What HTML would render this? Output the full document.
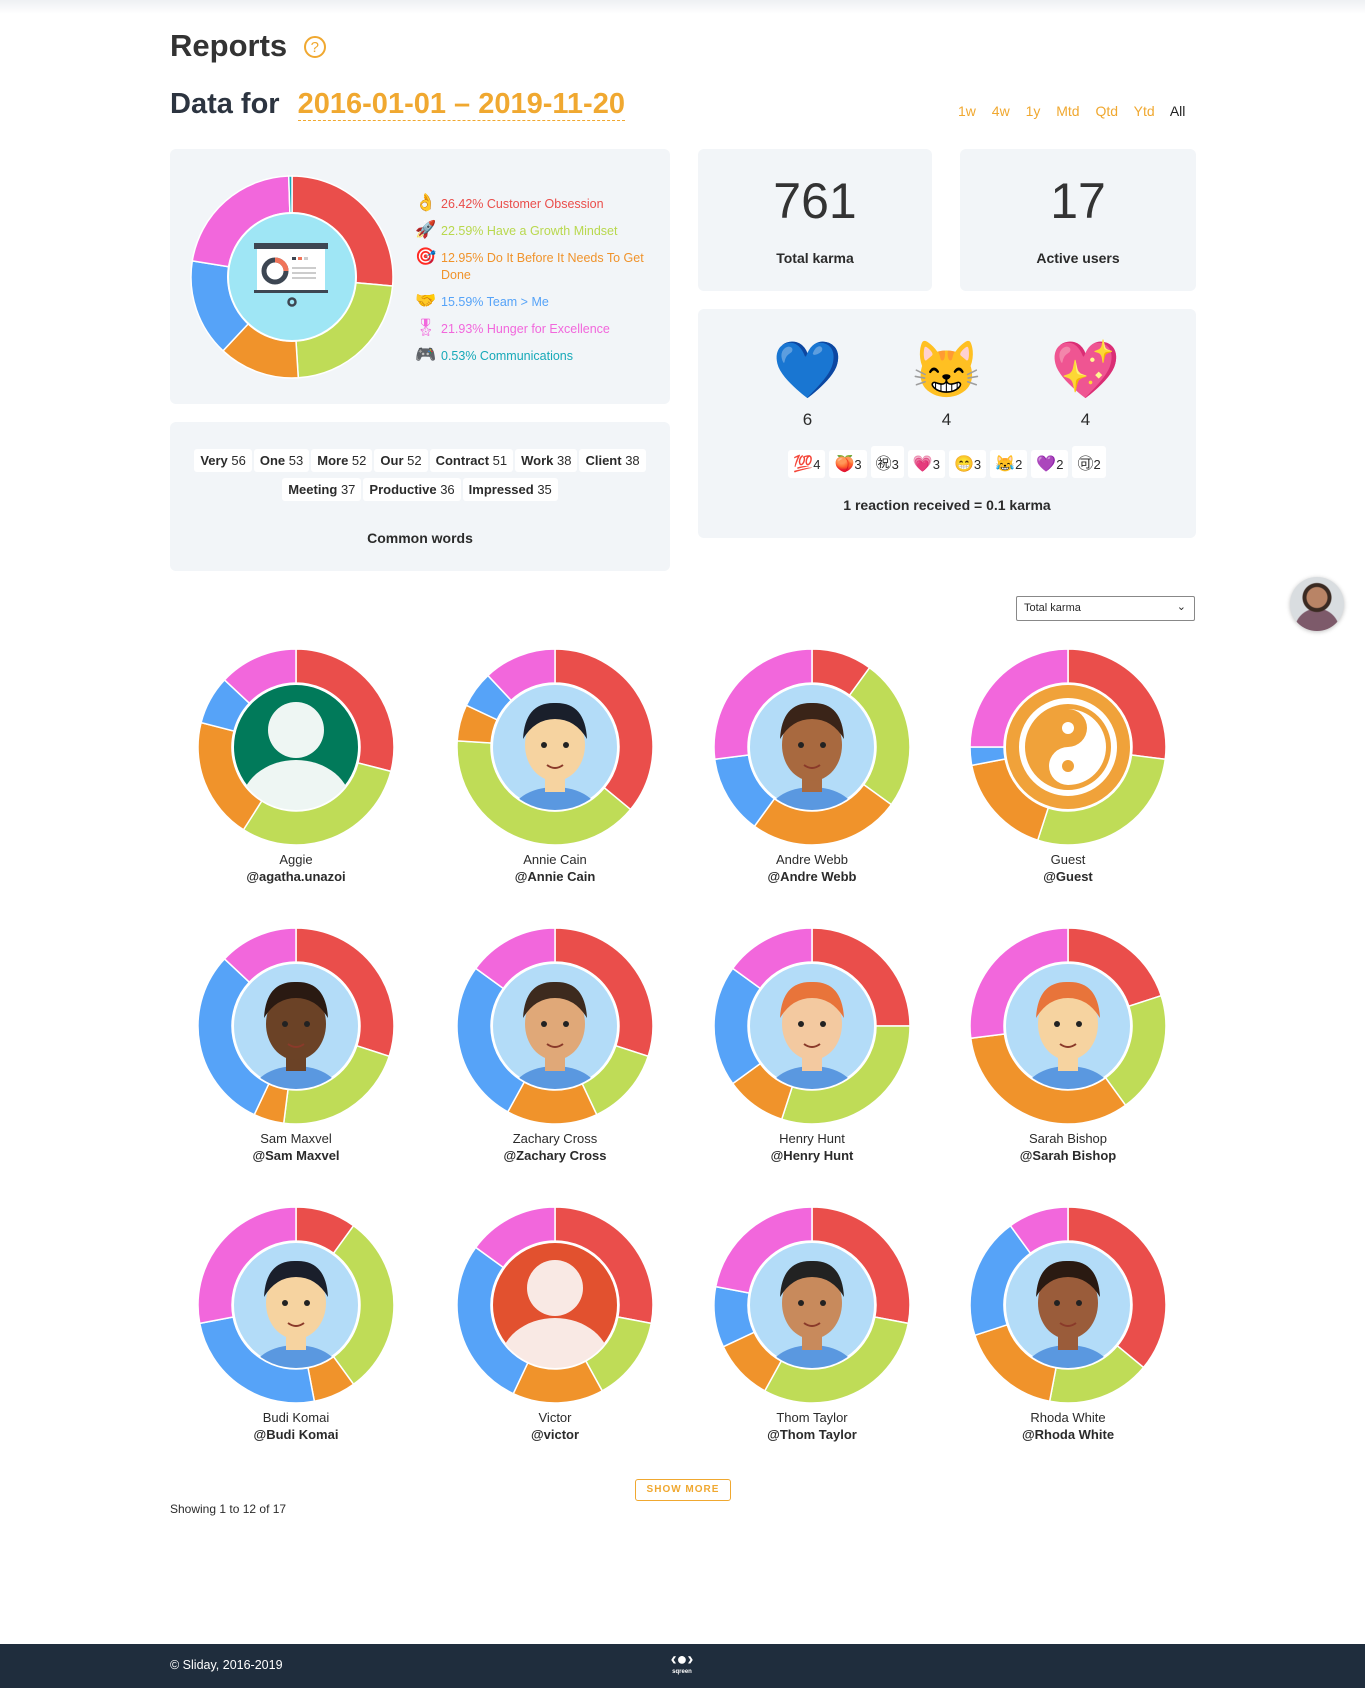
<!DOCTYPE html>
<html><head><meta charset="utf-8">
<style>
*{box-sizing:border-box;margin:0;padding:0}
body{width:1365px;height:1688px;position:relative;background:#fff;font-family:"Liberation Sans","Noto Sans CJK JP",sans-serif;color:#2b2b2b;overflow:hidden}
.topshade{position:absolute;left:0;top:0;width:1365px;height:14px;background:linear-gradient(#eef0f3,#fff)}
.abs{position:absolute}
.panel{position:absolute;background:#f2f5f8;border-radius:6px}
.chip{display:inline-block;background:#fff;border-radius:3px;padding:4px 6px;font-size:13px;margin:0 1px 6px}
.chip b{font-weight:bold}
.rt{display:inline-block;background:#fff;border-radius:3px;padding:4px 5px;font-size:13px;margin:0 2px}
.rt i{font-style:normal;font-size:16px}
.nm{position:absolute;width:220px;text-align:center;font-size:13px}
.hd{position:absolute;width:220px;text-align:center;font-size:13px;font-weight:bold}
.ic{display:inline-block;width:26px;font-size:17px}
</style></head><body>
<div class="topshade"></div>
<div class="abs" style="left:170px;top:28px;font-size:31px;color:#333;font-weight:600">Reports <span style="display:inline-block;width:22px;height:22px;border:2px solid #f0a830;border-radius:50%;color:#f0a830;font-size:15px;font-weight:normal;text-align:center;line-height:19px;vertical-align:4px;margin-left:8px">?</span></div>
<div class="abs" style="left:170px;top:88px;font-size:29px;font-weight:bold;color:#2c3440">Data for <span style="color:#f0a830;border-bottom:1px dashed #f0a830;margin-left:10px">2016-01-01 – 2019-11-20</span></div>
<div class="abs" style="left:958px;top:103px;font-size:14px;color:#f0a830;word-spacing:12px">1w 4w 1y Mtd Qtd Ytd <span style="color:#222">All</span></div>

<div class="panel" style="left:170px;top:149px;width:500px;height:255px"></div>
<svg class="abs" style="left:190px;top:175px" width="205" height="205" id="main"></svg>
<div class="abs" style="left:415px;top:190px;font-size:12.5px;line-height:26px;width:240px">
<div style="color:#ea4e4b"><span class="ic">👌</span>26.42% Customer Obsession</div>
<div style="color:#b9d84e"><span class="ic">🚀</span>22.59% Have a Growth Mindset</div>
<div style="color:#f0932b;line-height:17px;padding:4px 0 4px 26px;text-indent:-26px"><span class="ic" style="text-indent:0">🎯</span>12.95% Do It Before It Needs To Get Done</div>
<div style="color:#56a3f8"><span class="ic">🤝</span>15.59% Team &gt; Me</div>
<div style="color:#f267dc"><span class="ic">🎖</span>21.93% Hunger for Excellence</div>
<div style="color:#17a9b8"><span class="ic">🎮</span>0.53% Communications</div>
</div>

<div class="panel" style="left:698px;top:149px;width:234px;height:142px"></div>
<div class="abs" style="left:698px;top:172px;width:234px;text-align:center;font-size:50px;font-weight:300;color:#333">761</div>
<div class="abs" style="left:698px;top:250px;width:234px;text-align:center;font-size:14px;font-weight:bold">Total karma</div>
<div class="panel" style="left:960px;top:149px;width:236px;height:142px"></div>
<div class="abs" style="left:960px;top:172px;width:236px;text-align:center;font-size:50px;font-weight:300;color:#333">17</div>
<div class="abs" style="left:960px;top:250px;width:236px;text-align:center;font-size:14px;font-weight:bold">Active users</div>

<div class="panel" style="left:698px;top:309px;width:498px;height:229px"></div>
<div class="abs" style="left:770px;top:335px;font-size:56px;line-height:70px;width:400px">
<span class="abs" style="left:0;width:75px;text-align:center">💙</span><span class="abs" style="left:139px;width:75px;text-align:center">😸</span><span class="abs" style="left:278px;width:75px;text-align:center">💖</span></div>
<div class="abs" style="left:770px;top:410px;font-size:17px;width:400px">
<span class="abs" style="left:0;width:75px;text-align:center">6</span><span class="abs" style="left:139px;width:75px;text-align:center">4</span><span class="abs" style="left:278px;width:75px;text-align:center">4</span></div>
<div class="abs" style="left:698px;top:446px;width:498px;text-align:center">
<span class="rt"><i>💯</i>4</span><span class="rt"><i>🍑</i>3</span><span class="rt"><i>㊗</i>3</span><span class="rt"><i>💗</i>3</span><span class="rt"><i>😁</i>3</span><span class="rt"><i>😹</i>2</span><span class="rt"><i>💜</i>2</span><span class="rt"><i>🉑</i>2</span></div>
<div class="abs" style="left:698px;top:497px;width:498px;text-align:center;font-size:14px;font-weight:bold">1 reaction received = 0.1 karma</div>

<div class="panel" style="left:170px;top:422px;width:500px;height:149px"></div>
<div class="abs" style="left:180px;top:449px;width:480px;text-align:center">
<span class="chip"><b>Very</b> 56</span><span class="chip"><b>One</b> 53</span><span class="chip"><b>More</b> 52</span><span class="chip"><b>Our</b> 52</span><span class="chip"><b>Contract</b> 51</span><span class="chip"><b>Work</b> 38</span><span class="chip"><b>Client</b> 38</span><br>
<span class="chip"><b>Meeting</b> 37</span><span class="chip"><b>Productive</b> 36</span><span class="chip"><b>Impressed</b> 35</span></div>
<div class="abs" style="left:170px;top:530px;width:500px;text-align:center;font-size:14px;font-weight:bold">Common words</div>

<div class="abs" style="left:1016px;top:596px;width:179px;height:25px;border:1px solid #888;border-radius:2px;font-size:11px;padding:5px 7px">Total karma<span style="position:absolute;right:8px;top:3px;font-size:11px">⌄</span></div>
<div class="abs" style="left:1290px;top:577px;width:54px;height:54px;border-radius:50%;background:radial-gradient(circle at 50% 38%,#b98466 0 10px,#3a2a22 11px 14px,transparent 15px),radial-gradient(circle at 50% 100%,#7d5a6a 0 22px,transparent 23px),#d9dde0;box-shadow:0 1px 4px rgba(0,0,0,.25)"></div>

<div id="grid"></div>

<div class="abs" style="left:635px;top:1479px;width:96px;height:22px;border:1px solid #f0a830;border-radius:3px;color:#f0a830;font-size:10px;font-weight:bold;letter-spacing:1px;text-align:center;line-height:20px">SHOW MORE</div>
<div class="abs" style="left:170px;top:1502px;font-size:12px">Showing 1 to 12 of 17</div>

<div class="abs" style="left:0;top:1644px;width:1365px;height:44px;background:#1f2d3d"></div>
<div class="abs" style="left:170px;top:1658px;font-size:12.5px;color:#fff">© Sliday, 2016-2019</div>
<div class="abs" style="left:664px;top:1650px;width:36px;text-align:center;color:#fff;font-size:18px;font-weight:bold;line-height:18px">‹●›<div style="font-size:6px;line-height:8px">sqreen</div></div>

<script>
var C=['#ea4e4b','#bfdc57','#f0932b','#56a3f8','#f267dc','#17a9b8'];
function arcs(cx,cy,r1,r2,fr){var s='',a=0;for(var i=0;i<fr.length;i++){var f=fr[i];if(f<=0)continue;var b=a+f*2*Math.PI;
var p=function(r,t){return (cx+r*Math.sin(t)).toFixed(2)+' '+(cy-r*Math.cos(t)).toFixed(2)};var L=f>0.5?1:0;
s+='<path d="M'+p(r2,a)+' A'+r2+' '+r2+' 0 '+L+' 1 '+p(r2,b)+' L'+p(r1,b)+' A'+r1+' '+r1+' 0 '+L+' 0 '+p(r1,a)+'Z" fill="'+C[i]+'" stroke="#fff" stroke-width="1.5"/>';a=b;}return s;}
var m=document.getElementById('main');
m.innerHTML=arcs(102,102,64,101,[.2642,.2259,.1295,.1559,.2193,.0053]);
m.innerHTML+='<circle cx="102" cy="102" r="64" fill="#9fe6f5" stroke="#fff" stroke-width="2"/><rect x="64" y="68" width="74" height="6" fill="#3d4652"/><rect x="67" y="74" width="68" height="42" fill="#fff"/><rect x="64" y="115" width="74" height="3" fill="#3d4652"/><circle cx="85" cy="96" r="11" fill="none" stroke="#3d4652" stroke-width="5"/><path d="M85 85 A11 11 0 0 1 96 96" fill="none" stroke="#f0745a" stroke-width="5"/><rect x="102" y="92" width="24" height="2" fill="#ccc"/><rect x="102" y="97" width="24" height="2" fill="#ccc"/><rect x="102" y="102" width="24" height="2" fill="#ccc"/><rect x="102" y="82" width="4" height="3" fill="#3d4652"/><rect x="108" y="82" width="4" height="3" fill="#f0745a"/><rect x="114" y="82" width="4" height="3" fill="#ccc"/><circle cx="102" cy="127" r="3.5" fill="none" stroke="#3d4652" stroke-width="2.5"/>';
var users=[
['Aggie','@agatha.unazoi',[.29,.3,.2,.08,.13],'aggie'],
['Annie Cain','@Annie Cain',[.36,.4,.06,.06,.12],'#1a1f2b'],
['Andre Webb','@Andre Webb',[.1,.25,.25,.13,.27],'#3a2418'],
['Guest','@Guest',[.27,.28,.17,.03,.25],'guest'],
['Sam Maxvel','@Sam Maxvel',[.3,.22,.05,.3,.13],'#2a1a12'],
['Zachary Cross','@Zachary Cross',[.3,.13,.15,.27,.15],'#3d2a1e'],
['Henry Hunt','@Henry Hunt',[.25,.3,.1,.2,.15],'#e8743a'],
['Sarah Bishop','@Sarah Bishop',[.2,.2,.33,0,.27],'#e8743a'],
['Budi Komai','@Budi Komai',[.1,.3,.07,.25,.28],'#1a1f2b'],
['Victor','@victor',[.28,.14,.15,.28,.15],'victor'],
['Thom Taylor','@Thom Taylor',[.28,.3,.1,.1,.22],'#222'],
['Rhoda White','@Rhoda White',[.36,.17,.17,.2,.1],'#2a1a12']];
var xs=[296,555,812,1068],ys=[747,1026,1305],h='';
var skins=['','#f6d3a0','#a8693f','','#6b4226','#e0a878','#f3c9a0','#f6d3a0','#f6d3a0','','#c88a5c','#9a5c3a'];
users.forEach(function(u,i){var cx=xs[i%4],cy=ys[Math.floor(i/4)];
var svg='<svg class="abs" style="left:'+(cx-100)+'px;top:'+(cy-100)+'px" width="200" height="200">'+arcs(100,100,64,98,u[2]);
if(u[3]=='aggie'||u[3]=='victor'){var bg=u[3]=='aggie'?'#017a5a':'#e2512f',fg=u[3]=='aggie'?'#eef6f3':'#f9e9e4';
svg+='<clipPath id="c'+i+'"><circle cx="100" cy="100" r="63"/></clipPath><circle cx="100" cy="100" r="63" fill="'+bg+'" stroke="#fff" stroke-width="2"/><g clip-path="url(#c'+i+')"><circle cx="100" cy="83" r="28" fill="'+fg+'"/><ellipse cx="100" cy="158" rx="55" ry="45" fill="'+fg+'"/></g>';}
else if(u[3]=='guest'){svg+='<circle cx="100" cy="100" r="63" fill="#f0a23a" stroke="#fff" stroke-width="2"/><circle cx="100" cy="100" r="46" fill="none" stroke="#fff" stroke-width="6"/><path d="M100 62 A38 38 0 0 1 100 138 A19 19 0 0 1 100 100 A19 19 0 0 0 100 62Z" fill="#fff"/><circle cx="100" cy="81" r="6" fill="#fff"/><circle cx="100" cy="119" r="6" fill="#f0a23a"/>';}
else{svg+='<clipPath id="c'+i+'"><circle cx="100" cy="100" r="63"/></clipPath><circle cx="100" cy="100" r="63" fill="#b3dcf8" stroke="#fff" stroke-width="2"/><g clip-path="url(#c'+i+')"><ellipse cx="100" cy="170" rx="45" ry="30" fill="#5a98e0"/><rect x="90" y="115" width="20" height="30" fill="'+skins[i]+'"/><ellipse cx="100" cy="98" rx="30" ry="36" fill="'+skins[i]+'"/><path d="M68 92 Q70 55 100 56 Q130 55 132 92 Q120 72 100 72 Q80 72 68 92Z" fill="'+u[3]+'"/><circle cx="89" cy="98" r="3" fill="#222"/><circle cx="111" cy="98" r="3" fill="#222"/><path d="M92 118 Q100 124 108 118" stroke="#8a3a2a" stroke-width="2" fill="none"/></g>';}
svg+='</svg>';
h+=svg+'<div class="nm" style="left:'+(cx-110)+'px;top:'+(cy+105)+'px">'+u[0]+'</div><div class="hd" style="left:'+(cx-110)+'px;top:'+(cy+122)+'px">'+u[1]+'</div>';});
document.getElementById('grid').innerHTML=h;
</script>
</body></html>
